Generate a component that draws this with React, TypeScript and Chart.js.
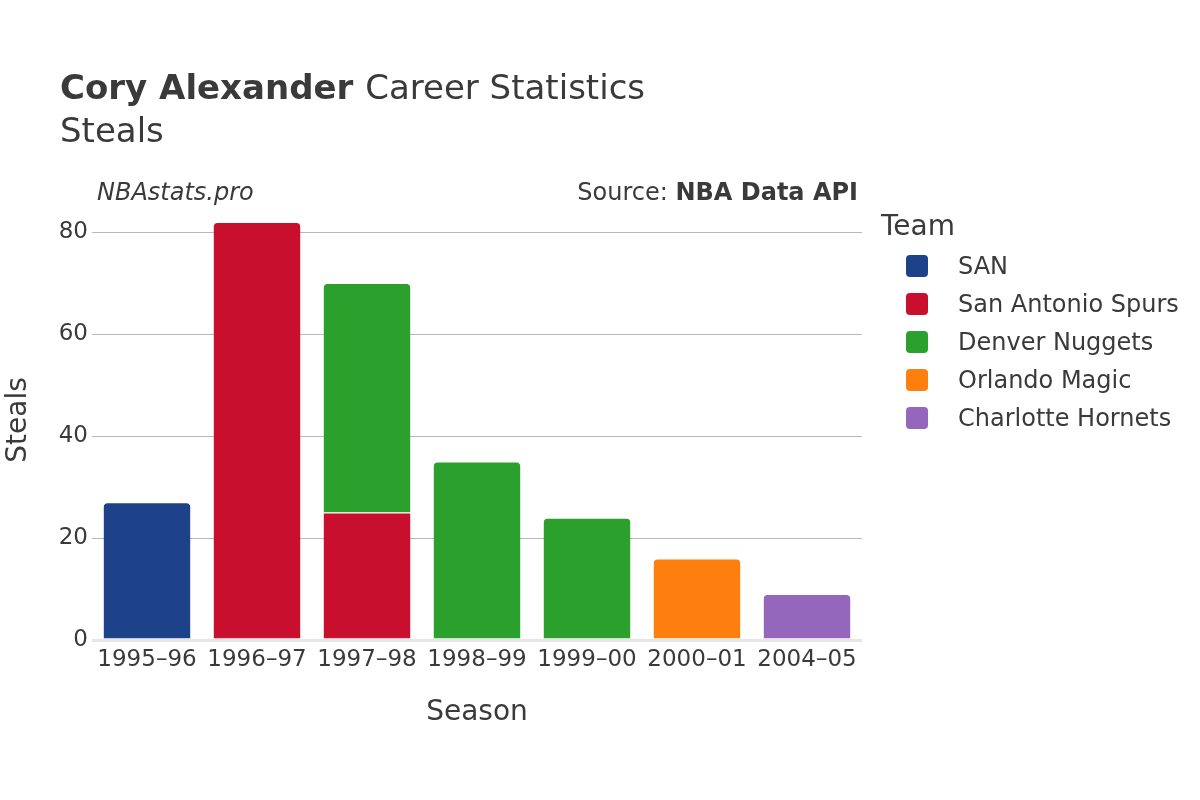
import React, { useEffect, useRef } from "react";
import { Chart, registerables } from "chart.js";

Chart.register(...registerables);

const seasons = ["1995–96", "1996–97", "1997–98", "1998–99", "1999–00", "2000–01", "2004–05"];
const teams = ["SAN", "San Antonio Spurs", "Denver Nuggets", "Orlando Magic", "Charlotte Hornets"];
const teamColors = ["#1D428A", "#C8102E", "#2CA02C", "#FF7F0E", "#9467BD"];
const sanSteals = [27, null, null, null, null, null, null];
const spursSteals = [null, 82, 25, null, null, null, null];
const nuggetsSteals = [null, null, 45, 35, 24, null, null];
const magicSteals = [null, null, null, null, null, 16, null];
const hornetsSteals = [null, null, null, null, null, null, 9];
const yTicks = [0, 20, 40, 60, 80];
const yMax = 86.3;

const FONT = "'DejaVu Sans', sans-serif";
const TEXT = "#3a3a3a";

const seriesValues = [sanSteals, spursSteals, nuggetsSteals, magicSteals, hornetsSteals];

const overlayPlugin = {
  id: "overlay",
  afterDraw(chart: any) {
    const ctx = chart.ctx as CanvasRenderingContext2D;
    const area = chart.chartArea;
    const d = 1.5;
    ctx.save();
    ctx.textBaseline = "middle";
    ctx.fillStyle = TEXT;
    // Title
    ctx.textAlign = "left";
    ctx.font = `bold 34px ${FONT}`;
    const t1 = "Cory Alexander";
    ctx.fillText(t1, 60, 89 + d);
    const w1 = ctx.measureText(t1 + " ").width;
    ctx.font = `34px ${FONT}`;
    ctx.fillText("Career Statistics", 60 + w1, 89 + d);
    ctx.fillText("Steals", 60, 132 + d);
    // Sub captions
    ctx.font = `italic 24px ${FONT}`;
    ctx.fillText("NBAstats.pro", 97, 192 + d);
    ctx.textAlign = "right";
    ctx.font = `bold 24px ${FONT}`;
    const bold = "NBA Data API";
    ctx.fillText(bold, 858, 192 + d);
    const bw = ctx.measureText(bold).width;
    ctx.font = `24px ${FONT}`;
    ctx.fillText("Source: ", 858 - bw, 192 + d);
    // Axis titles
    ctx.textAlign = "center";
    ctx.font = `28px ${FONT}`;
    ctx.fillText("Season", (area.left + area.right) / 2, 711 + d);
    ctx.save();
    ctx.translate(17 + d, 420);
    ctx.rotate(-Math.PI / 2);
    ctx.fillText("Steals", 0, 0);
    ctx.restore();
    // Legend
    ctx.textAlign = "left";
    ctx.font = `28px ${FONT}`;
    ctx.fillText("Team", 881, 226 + d);
    ctx.font = `24px ${FONT}`;
    chart.data.datasets.forEach((ds: any, i: number) => {
      const cy = 266 + i * 38;
      ctx.fillStyle = ds.backgroundColor;
      ctx.beginPath();
      (ctx as any).roundRect(906, cy - 11, 22, 22, 4);
      ctx.fill();
      ctx.fillStyle = TEXT;
      ctx.fillText(ds.label, 958, cy + d);
    });
    ctx.restore();
  },
};

function isTop(datasetIndex: number, index: number) {
  for (let k = datasetIndex + 1; k < seriesValues.length; k++) {
    if (seriesValues[k][index] != null) return false;
  }
  return true;
}

export default function App() {
  const ref = useRef<HTMLCanvasElement>(null);
  useEffect(() => {
    document.body.style.margin = "0";
    const canvas = ref.current!;
    const chart = new Chart(canvas, {
      type: "bar",
      data: {
        labels: seasons,
        datasets: teams.map((t, i) => ({
          label: t,
          data: seriesValues[i] as any,
          backgroundColor: teamColors[i],
          borderColor: "rgba(255,255,255,0.9)",
          borderWidth: { top: 1, left: 0, right: 0, bottom: 0 } as any,
          borderSkipped: false as any,
          borderRadius: (c: any) =>
            isTop(c.datasetIndex, c.dataIndex)
              ? { topLeft: 5, topRight: 5, bottomLeft: 0, bottomRight: 0 }
              : 0,
          barPercentage: 0.79,
          categoryPercentage: 1,
        })),
      },
      options: {
        responsive: false,
        animation: false,
        devicePixelRatio: 1,
        layout: { padding: { left: 0, top: 200, right: 338, bottom: 0 } },
        plugins: { legend: { display: false }, tooltip: { enabled: false }, title: { display: false } },
        scales: {
          x: {
            stacked: true,
            grid: { display: false, drawTicks: false },
            border: { display: false },
            ticks: { color: TEXT, font: { family: FONT, size: 23 }, padding: 6, maxRotation: 0, autoSkip: false },
            afterFit: (s: any) => {
              s.height = 160;
            },
          },
          y: {
            stacked: true,
            min: 0,
            max: yMax,
            afterBuildTicks: (s: any) => {
              s.ticks = yTicks.map((v) => ({ value: v }));
            },
            grid: {
              color: (c: any) => (c.tick && c.tick.value === 0 ? "#e6e6e6" : "#b8b8b8"),
              lineWidth: (c: any) => (c.tick && c.tick.value === 0 ? 3 : 1),
              drawTicks: false,
            },
            border: { display: false },
            ticks: { color: TEXT, font: { family: FONT, size: 23 }, padding: 4 },
            afterFit: (s: any) => {
              s.width = 92;
            },
          },
        },
      },
      plugins: [overlayPlugin],
    });
    return () => chart.destroy();
  }, []);
  return <canvas ref={ref} width={1200} height={800} style={{ display: "block" }} />;
}
